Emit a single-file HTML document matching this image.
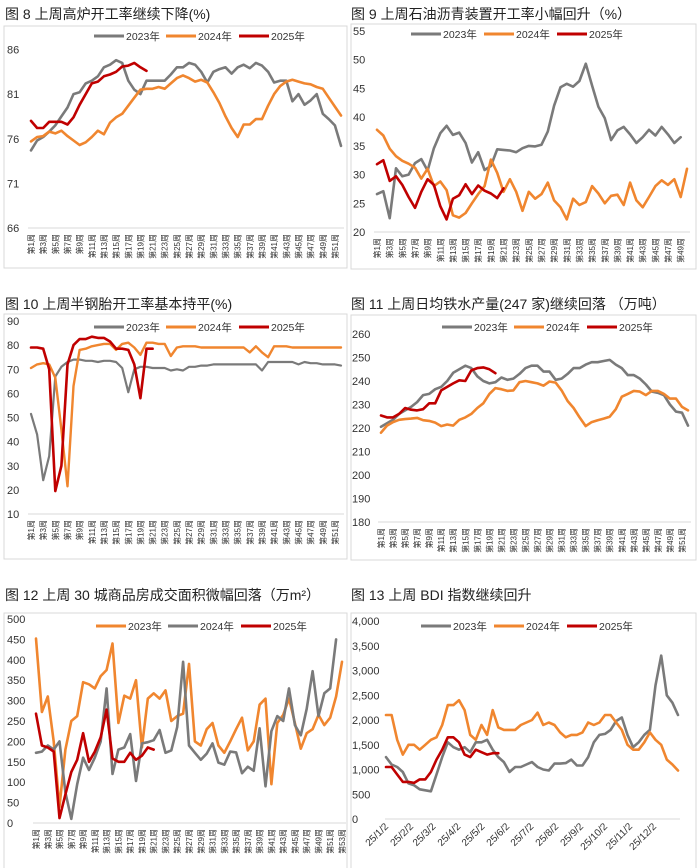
<!DOCTYPE html>
<html><head><meta charset="utf-8">
<style>
html,body{margin:0;padding:0;background:#fff;}
svg{display:block;font-family:"Liberation Sans","Noto Sans CJK SC",sans-serif;}
</style></head>
<body>
<svg id="root" width="700" height="868" viewBox="0 0 700 868" xmlns="http://www.w3.org/2000/svg"></svg>
<script>
// ---------- Chart 8: blast furnace utilization ----------
const c8_2023 = [74.7,75.8,76.2,76.8,77.5,78.5,79.5,81,81.2,82.2,82.5,83,84,84.3,84.8,84.5,82.5,81.5,81,82.5,82.5,82.5,82.5,83.2,84,84,84.5,84.3,83.5,82.3,83.5,83.8,84,83.3,84,84.3,83.9,84.5,84.2,83.5,82.3,82.5,82.5,80.2,81,79.8,80.3,81,78.8,78.2,77.5,75.2];
const c8_2024 = [75.7,76.2,76.3,76.8,76.6,76.9,76.3,75.8,75.3,75.6,76.2,76.9,76.5,77.8,78.4,78.8,79.7,80.6,81.5,81.6,81.6,81.8,81.6,82.2,82.8,83.1,82.8,82.4,82.6,82.3,81.2,80,78.5,77.2,76.2,77.6,77.6,78.2,78.2,79.7,81,81.9,82.4,82.6,82.4,82.2,82.1,81.8,81.6,80.6,79.6,78.6];
const c8_2025 = [78,77.2,77.2,77.9,77.9,77.9,77.6,78.4,79.8,81,82.2,82.4,83,83.2,83.5,84.1,84.2,84.5,84,83.6];
const c8_ticks = [66,71,76,81,86];
// ---------- Chart 9: asphalt ----------
const c9_2023 = [26.6,27.1,22.4,31.1,29.7,30,32,32.7,30.7,34.6,37.2,38.5,36.9,37.3,35.5,32.1,33.9,30.8,31.5,34.4,34.3,34.2,33.9,34.6,35,34.9,35.2,37.5,42,45.2,45.8,45.3,46.3,49.3,45.5,41.8,39.8,36,37.7,38.3,37,35.5,36.5,37.8,36.8,38.3,37,35.5,36.5];
const c9_2024 = [37.8,36.8,34.5,33.2,32.4,31.9,31.2,29.3,31,28,28.8,27.3,22.9,22.5,23.3,25,26.6,28,32.6,30.3,27,29.2,27,23.7,27,25.8,26.6,28.6,25.5,24.3,22.2,25.8,24.7,25.2,28,26.7,25,26.3,26.5,24.7,28.6,25.5,24.3,26.1,28,29,28.2,29.2,26.1,31];
const c9_2025 = [31.8,32.5,28.9,29.7,28.2,26.1,24.2,27,29.2,28.2,24.5,22.2,25.8,26.4,28.3,26.6,28.1,27.2,26.7,25.9,27.6];
const c9_ticks = [20,25,30,35,40,45,50,55];
// ---------- Chart 10: semi-steel tire ----------
const c10_2023 = [51.5,43,24,34,67,71,73,74,74,73.5,73.5,73,73.5,73.5,73,70.5,60.5,70,71,71,70.5,70.5,70.5,69.5,70,69.5,71,71,71.5,71.5,72,72,72,72,72,72,72,72,69.5,73,73,73,73,73,72,73,72.5,72.5,72,72,72,71.5];
const c10_2024 = [70.5,72,72.5,72,66.5,45,21.5,63,78,78.5,79.5,80,80.5,80.5,78,80.5,81,79,76,81,81,80.5,80.5,75.5,79,79.5,79.5,79.5,79,79,79,79,79,79,79,79,77,79.5,77,75,79.5,79.5,79.5,79,79,79,79,79,79,79,79,79];
const c10_2025 = [79,79,78.5,70,19.5,30,72,80,82.5,82.5,83.5,83,83,81.5,78.5,78.5,78,72,58,78.5,78.5];
const c10_ticks = [10,20,30,40,50,60,70,80,90];
// ---------- Chart 11: hot metal output ----------
const c11_2023 = [220.5,222,223.5,226,227.5,229,231,234,234.5,236.5,237.5,240,243.5,245,246.5,245.5,242,240,239,239.5,241.5,240.5,241,243,245.5,246.5,246.5,244,244,240.5,241,243,245.5,245.5,247,248,248,248.5,249,247,245.5,242.5,242.5,241,238.5,235.5,235,234,230,227,226.5,221];
const c11_2024 = [218,221,222.5,223.5,223.8,224,224.3,223.3,223,222.3,220.8,221.5,221,223.5,224.5,226,228.5,230.5,234.5,237,236.5,235.8,236,239.5,240,239.5,239,238,239.8,239.3,236,231.5,228.5,224.5,220.8,222.5,223.3,224,224.8,228,233.3,234.5,235.8,235.5,234,235.8,235.8,234.5,232.5,232.5,229,227.5];
const c11_2025 = [225.3,224.5,224.5,226,228.5,227.8,227.5,228,230.5,230.5,236,237.5,239,240.3,240,244.5,245.5,245.8,245,243.3];
const c11_ticks = [180,190,200,210,220,230,240,250,260];
// ---------- Chart 12: housing sales 30 cities ----------
const c12_2023 = [452,272,310,200,40,180,250,262,345,340,330,360,375,440,245,312,305,350,185,305,318,305,325,250,262,268,390,200,190,230,245,190,172,200,230,258,178,200,290,305,95,245,265,305,245,182,220,230,265,240,258,310,395];
const c12_2024 = [172,175,190,180,200,75,10,95,160,130,160,200,330,120,180,185,218,103,195,198,203,228,172,178,235,395,190,172,155,170,195,148,143,175,173,122,138,128,232,90,225,262,250,330,240,215,280,372,262,318,330,450];
const c12_2025 = [268,190,185,175,12,70,125,155,220,150,175,210,278,158,150,150,172,155,165,185,180];
const c12_ticks = [0,50,100,150,200,250,300,350,400,450,500];
// ---------- Chart 13: BDI (weekly samples) ----------
const c13_2023 = [1250,1100,1050,950,720,680,600,580,560,900,1250,1550,1450,1400,1450,1350,1550,1550,1600,1400,1250,1150,950,1050,1050,1100,1150,1050,1000,980,1120,1120,1130,1200,1080,1080,1250,1550,1700,1720,1800,1980,2050,1700,1450,1550,1700,1800,2700,3300,2500,2350,2100];
const c13_2024 = [2100,2100,1600,1300,1500,1500,1400,1500,1600,1650,1900,2300,2300,2400,2200,1700,1600,1900,1700,2200,1850,1800,1800,1800,1900,1950,2000,2150,1900,1950,1900,1750,1650,1700,1700,1750,1950,1900,1950,2100,2100,1950,1800,1500,1400,1400,1550,1750,1600,1500,1200,1100,980];
const c13_2025 = [1050,1050,900,750,750,730,800,800,950,1200,1400,1650,1650,1550,1300,1250,1400,1350,1300,1330,1330];
const c13_ticks = [0,500,1000,1500,2000,2500,3000,3500,4000];
const c13_dateLabels = ['25/1/2','25/2/2','25/3/2','25/4/2','25/5/2','25/6/2','25/7/2','25/8/2','25/9/2','25/10/2','25/11/2','25/12/2'];
const c13_dateDays = [0,31,59,90,120,151,181,212,243,273,304,334];

const NS='http://www.w3.org/2000/svg';
const root=document.getElementById('root');
const GRAY='#7a7a7a', ORANGE='#f0862f', RED='#c00000';
function mk(tag,attrs,parent){const e=document.createElementNS(NS,tag);for(const k in attrs)e.setAttribute(k,attrs[k]);(parent||root).appendChild(e);return e;}
function fmt(v){return v>=1000?String(v).replace(/\B(?=(\d{3})+(?!\d))/g,','):String(v);}

function panel(p){
  const g=mk('g',{});
  
  
  const box=mk('rect',{x:p.box[0],y:p.box[1],width:p.box[2]-p.box[0],height:p.box[3]-p.box[1],fill:'#fff',stroke:'#d9d9d9','stroke-width':1},g);
  
  
  const t=mk('text',{x:p.title[0],y:p.title[1],'font-size':14,fill:'#222'},g);
  t.textContent=p.titleText;
  
  
  const ys=v=>p.yTop+(p.vmax-v)/(p.vmax-p.vmin)*(p.yBot-p.yTop);
  const xs=p.xs;
  // baseline
  const bl=mk('line',{x1:p.plotL,x2:p.plotR,y1:p.yBot,y2:p.yBot,stroke:'#d9d9d9','stroke-width':1},g);
  
  
  // y ticks
  p.ticks.forEach(v=>{
    const tt=mk('text',{x:p.yLabX,y:ys(v)+4,'font-size':11,fill:'#333'},g);
    tt.textContent=fmt(v);
    
    
  });
  // x labels
  p.xLabels(g,p.yBot);
  // series
  p.series.forEach(s=>{
    const pts=s.data.map((v,i)=>xs(i).toFixed(1)+','+ys(v).toFixed(1)).join(' ');
    const pl=mk('polyline',{points:pts,fill:'none',stroke:s.color,'stroke-width':s.w||2.6,'stroke-linejoin':'round','stroke-linecap':'round'},g);
    
    
  });
  // legend
  p.legend.forEach(l=>{
    const lg=mk('g',{},g);
    
    
    mk('line',{x1:l.x,x2:l.x+30,y1:p.legY,y2:p.legY,stroke:l.color,'stroke-width':3},lg);
    const lt=mk('text',{x:l.x+32,y:p.legY+4,'font-size':10.5,fill:'#333'},lg);
    lt.textContent=l.label;
  });
}
function weekLabels(xs,n,fs){
  return function(g,yb){
    for(let w=1;w<=n;w+=2){
      const x=xs(w-1);
      const t=mk('text',{x:0,y:0,'font-size':fs||8,fill:'#333','text-anchor':'end',transform:`translate(${(x+3).toFixed(1)},${yb+6}) rotate(-90)`},g);
      t.textContent='第'+w+'周';
      
      
    }
  };
}
function linX(x0,x1,n){return i=>x0+i*(x1-x0)/(n-1);}

// Chart 8
{const xs=linX(31,341,52);
panel({name:'chart-8-blast-furnace',box:[4,26,347,268],title:[5,19],titleText:'图 8  上周高炉开工率继续下降(%)',
 yTop:49.5,yBot:228,vmin:66,vmax:86,ticks:c8_ticks,yLabX:7,plotL:28,plotR:344,xs,xLabels:weekLabels(xs,52),
 series:[{data:c8_2023,color:GRAY,label:'2023'},{data:c8_2024,color:ORANGE,label:'2024'},{data:c8_2025,color:RED,label:'2025'}],
 legY:36,legend:[{x:94,color:GRAY,label:'2023年'},{x:166,color:ORANGE,label:'2024年'},{x:239,color:RED,label:'2025年'}]});}
// Chart 9
{const xs=linX(377,687,50);
panel({name:'chart-9-asphalt',box:[351,24,696,269],title:[351,19],titleText:'图 9  上周石油沥青装置开工率小幅回升（%）',
 yTop:31,yBot:232,vmin:20,vmax:55,ticks:c9_ticks,yLabX:353,plotL:374,plotR:690,xs,xLabels:weekLabels(xs,49),
 series:[{data:c9_2023,color:GRAY,label:'2023'},{data:c9_2024,color:ORANGE,label:'2024'},{data:c9_2025,color:RED,label:'2025'}],
 legY:34,legend:[{x:411,color:GRAY,label:'2023年'},{x:484,color:ORANGE,label:'2024年'},{x:557,color:RED,label:'2025年'}]});}
// Chart 10
{const xs=linX(31,341,52);
panel({name:'chart-10-tire',box:[4,314,347,559],title:[5,309],titleText:'图 10  上周半钢胎开工率基本持平(%)',
 yTop:321,yBot:514,vmin:10,vmax:90,ticks:c10_ticks,yLabX:7,plotL:28,plotR:344,xs,xLabels:weekLabels(xs,52),
 series:[{data:c10_2023,color:GRAY,label:'2023',w:2.2},{data:c10_2024,color:ORANGE,label:'2024',w:2.4},{data:c10_2025,color:RED,label:'2025',w:2.6}],
 legY:327,legend:[{x:94,color:GRAY,label:'2023年'},{x:166,color:ORANGE,label:'2024年'},{x:239,color:RED,label:'2025年'}]});}
// Chart 11
{const xs=linX(381,688,52);
panel({name:'chart-11-hot-metal',box:[351,315,696,560],title:[351,309],titleText:'图 11  上周日均铁水产量(247 家)继续回落 （万吨）',
 yTop:334,yBot:522,vmin:180,vmax:260,ticks:c11_ticks,yLabX:352,plotL:378,plotR:691,xs,xLabels:weekLabels(xs,52),
 series:[{data:c11_2023,color:GRAY,label:'2023'},{data:c11_2024,color:ORANGE,label:'2024'},{data:c11_2025,color:RED,label:'2025'}],
 legY:327,legend:[{x:442,color:GRAY,label:'2023年'},{x:514,color:ORANGE,label:'2024年'},{x:587,color:RED,label:'2025年'}]});}
// Chart 12
{const xs=linX(36,342,53);
panel({name:'chart-12-housing',box:[4,613,347,880],title:[5,600],titleText:'图 12  上周 30 城商品房成交面积微幅回落（万m²）',
 yTop:619,yBot:823,vmin:0,vmax:500,ticks:c12_ticks,yLabX:7,plotL:33,plotR:346,xs,xLabels:weekLabels(xs,53),
 series:[{data:c12_2023,color:ORANGE,label:'2023'},{data:c12_2024,color:GRAY,label:'2024'},{data:c12_2025,color:RED,label:'2025'}],
 legY:626,legend:[{x:96,color:ORANGE,label:'2023年'},{x:168,color:GRAY,label:'2024年'},{x:241,color:RED,label:'2025年'}]});}
// Chart 13
{const dx=d=>386+d*(292/364);
 const xs=i=>dx(i*7);
panel({name:'chart-13-bdi',box:[351,613,696,880],title:[351,600],titleText:'图 13  上周 BDI 指数继续回升',
 yTop:621,yBot:819,vmin:0,vmax:4000,ticks:c13_ticks,yLabX:352,plotL:385,plotR:680,xs,
 xLabels:function(g,yb){c13_dateLabels.forEach((lab,i)=>{const x=dx(c13_dateDays[i]);
   const t=mk('text',{x:0,y:0,'font-size':10,fill:'#333','text-anchor':'end',transform:`translate(${(x+3).toFixed(1)},${yb+8}) rotate(-45)`},g);
   t.textContent=lab;
   
   });},
 series:[{data:c13_2023,color:GRAY,label:'2023'},{data:c13_2024,color:ORANGE,label:'2024'},{data:c13_2025,color:RED,label:'2025'}],
 legY:626,legend:[{x:421,color:GRAY,label:'2023年'},{x:494,color:ORANGE,label:'2024年'},{x:567,color:RED,label:'2025年'}]});}
</script>
</body></html>
